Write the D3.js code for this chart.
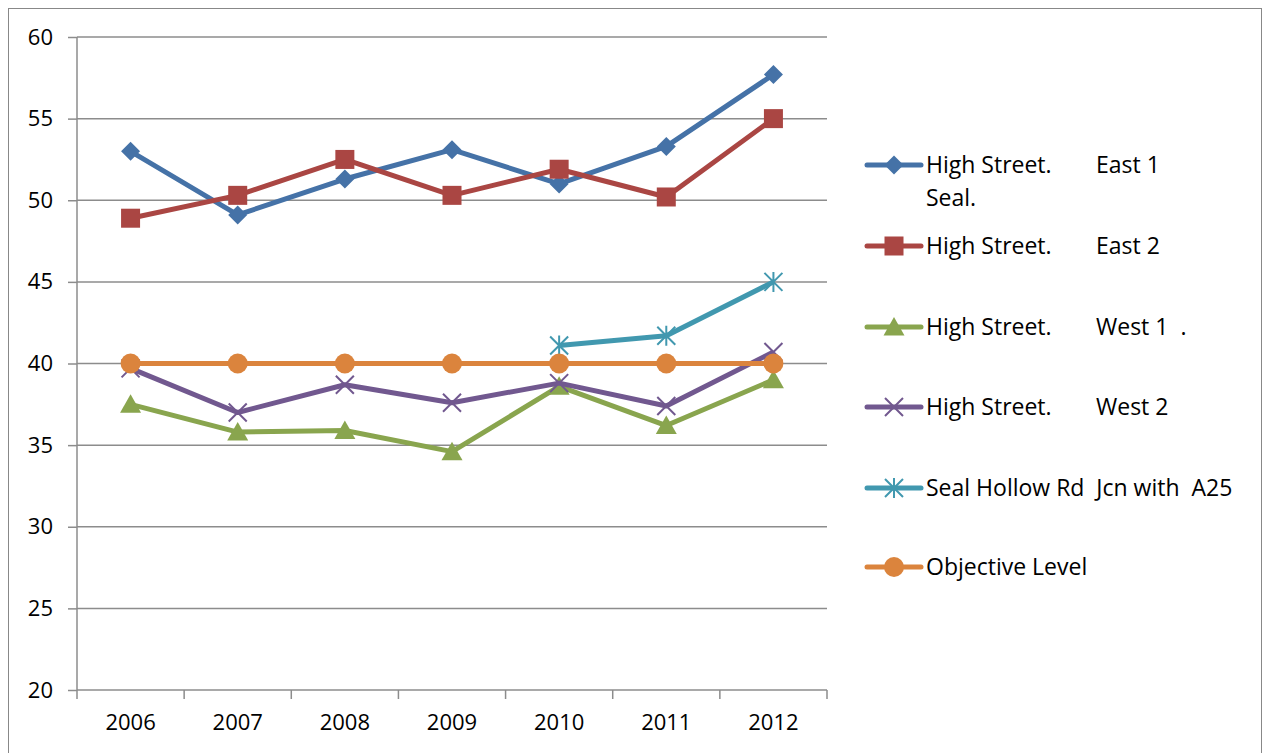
<!DOCTYPE html>
<html><head><meta charset="utf-8">
<script src="https://cdn.jsdelivr.net/npm/d3@7"></script>
<style>
body{margin:0;background:#fff;}
text{font-family:"Open Sans","Noto Sans",sans-serif;fill:#000;white-space:pre;}
</style></head>
<body><svg id="c" width="1268" height="753"></svg>
<script>
const years = ["2006","2007","2008","2009","2010","2011","2012"];
const yTicks = [20,25,30,35,40,45,50,55,60];
const east1 = [53.0,49.1,51.3,53.1,51.0,53.3,57.7];
const east2 = [48.9,50.3,52.5,50.3,51.9,50.2,55.0];
const west1 = [37.5,35.8,35.9,34.6,38.6,36.2,39.0];
const west2 = [39.7,37.0,38.7,37.6,38.8,37.4,40.7];
const sealHollow = [null,null,null,null,41.1,41.7,45.0];
const objective = [40,40,40,40,40,40,40];
const seriesNames = [["High Street.","East 1","Seal."],["High Street.","East 2"],["High Street.","West 1  ."],["High Street.","West 2"],["Seal Hollow Rd  Jcn with  A25"],["Objective Level"]];

const series = [
 {vals:east1,color:"#4572A7",marker:"diamond"},
 {vals:east2,color:"#AA4643",marker:"square"},
 {vals:west1,color:"#89A54E",marker:"triangle"},
 {vals:west2,color:"#71588F",marker:"x"},
 {vals:sealHollow,color:"#4198AF",marker:"star"},
 {vals:objective,color:"#DB843D",marker:"circle"}
];
series.forEach((s,i)=>s.name=seriesNames[i]);

const svg = d3.select("#c");
svg.append("rect").attr("x",8.5).attr("y",8.5).attr("width",1253).attr("height",760)
  .attr("fill","none").attr("stroke","#888").attr("stroke-width",1);

const x = d3.scaleBand().domain(years).range([77,827]);
const y = d3.scaleLinear().domain([20,60]).range([690,37]);
const grid="#8c8c8c";

svg.append("g").selectAll("line").data(yTicks.filter(d=>d>20)).join("line")
  .attr("x1",77).attr("x2",827).attr("y1",d=>y(d)).attr("y2",d=>y(d))
  .attr("stroke",grid).attr("stroke-width",1.5);

const ya = svg.append("g").attr("transform","translate(77,0)")
  .call(d3.axisLeft(y).tickValues(yTicks).tickSize(9).tickPadding(15));
ya.select(".domain").attr("stroke",grid).attr("stroke-width",1.5).attr("d","M0,690V37");
ya.selectAll(".tick line").attr("stroke",grid).attr("stroke-width",1.5);
ya.selectAll(".tick text").attr("font-size",22).attr("font-family","Open Sans").attr("fill","#000");

const xa = svg.append("g").attr("transform","translate(0,690)")
  .call(d3.axisBottom(x).tickSize(0).tickPadding(24));
xa.select(".domain").attr("stroke",grid).attr("stroke-width",1.5).attr("d","M77,0H827");
xa.selectAll(".tick text").attr("font-size",22).attr("font-family","Open Sans").attr("fill","#000");
const bounds = years.map(d=>x(d)).concat([x.range()[1]]);
svg.append("g").selectAll("line").data(bounds).join("line")
  .attr("x1",d=>d).attr("x2",d=>d).attr("y1",690).attr("y2",699)
  .attr("stroke",grid).attr("stroke-width",1.5);

function drawMarker(g,type,color,cx,cy){
  if(type==="diamond"){
    g.append("path").attr("d",`M${cx},${cy-9.5}L${cx+9.5},${cy}L${cx},${cy+9.5}L${cx-9.5},${cy}Z`).attr("fill",color);
  } else if(type==="square"){
    g.append("rect").attr("x",cx-9.5).attr("y",cy-9.5).attr("width",19).attr("height",19).attr("fill",color);
  } else if(type==="triangle"){
    g.append("path").attr("d",`M${cx},${cy-10}L${cx+10.5},${cy+8.5}L${cx-10.5},${cy+8.5}Z`).attr("fill",color);
  } else if(type==="x"){
    g.append("path").attr("d",`M${cx-9},${cy-9}L${cx+9},${cy+9}M${cx+9},${cy-9}L${cx-9},${cy+9}`).attr("stroke",color).attr("stroke-width",2);
  } else if(type==="star"){
    g.append("path").attr("d",`M${cx-9},${cy-9}L${cx+9},${cy+9}M${cx+9},${cy-9}L${cx-9},${cy+9}M${cx},${cy-10}L${cx},${cy+10}`).attr("stroke",color).attr("stroke-width",2);
  } else if(type==="circle"){
    g.append("circle").attr("cx",cx).attr("cy",cy).attr("r",10).attr("fill",color);
  }
}

const line = d3.line().defined(d=>d.v!=null).x(d=>x(d.year)+x.bandwidth()/2).y(d=>y(d.v));
series.forEach(s=>{
  const pts = years.map((yr,i)=>({year:yr,v:s.vals[i]}));
  const g = svg.append("g");
  g.append("path").attr("d",line(pts)).attr("fill","none").attr("stroke",s.color)
   .attr("stroke-width",5).attr("stroke-linejoin","round");
  pts.filter(p=>p.v!=null).forEach(p=>drawMarker(g,s.marker,s.color,x(p.year)+x.bandwidth()/2,y(p.v)));
});

const legY = [165,246,327,407,488,567];
series.forEach((s,i)=>{
  const g = svg.append("g");
  const ly = legY[i];
  g.append("line").attr("x1",867).attr("x2",921).attr("y1",ly).attr("y2",ly)
   .attr("stroke",s.color).attr("stroke-width",5).attr("stroke-linecap","round");
  drawMarker(g,s.marker,s.color,894,ly);
  g.append("text").attr("x",926).attr("y",ly+8).attr("font-size",23).text(s.name[0]);
  if(s.name[1]) g.append("text").attr("x",1096).attr("y",ly+8).attr("font-size",23).text(s.name[1]);
  if(s.name[2]) g.append("text").attr("x",926).attr("y",ly+41).attr("font-size",23).text(s.name[2]);
});
</script></body></html>
